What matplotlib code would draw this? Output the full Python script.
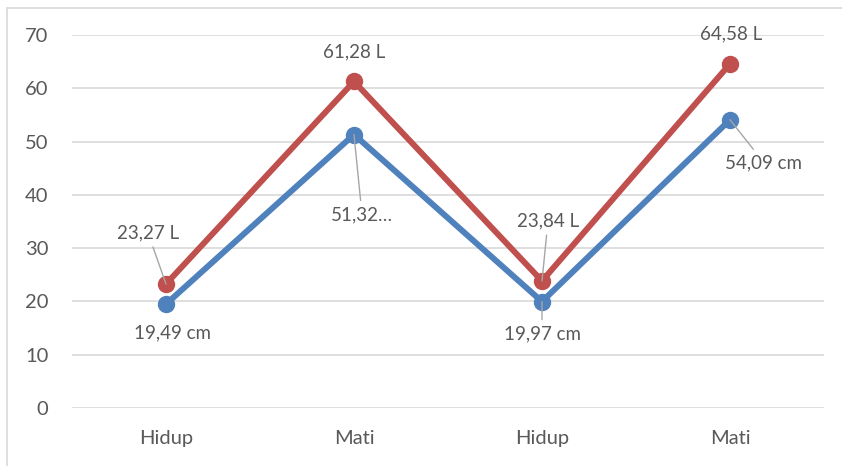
import matplotlib.pyplot as plt
from matplotlib.patches import Rectangle

plt.rcParams['font.family'] = ['Lato', 'DejaVu Sans']

# data
kategori = ['Hidup', 'Mati', 'Hidup', 'Mati']
panjang_cm = [19.49, 51.32, 19.97, 54.09]
volume_l = [23.27, 61.28, 23.84, 64.58]
label_cm = ['19,49 cm', '51,32…', '19,97 cm', '54,09 cm']
label_l = ['23,27 L', '61,28 L', '23,84 L', '64,58 L']

# label offsets (pixels) and whether a leader line is drawn
off_cm = [(7, -29, False), (8, -80, True), (0, -32, True), (34, -43, True)]
off_l = [(-18, 51, True), (0, 30, False), (6, 60, True), (1, 30, False)]

BIRU = '#4F81BD'
MERAH = '#C0504D'
TEKS = '#595959'
GRID = '#D9D9D9'

fig = plt.figure(figsize=(8.42, 4.66), dpi=100)
W, H = 842, 466

# chart frame
fig.patches.append(Rectangle((7 / W, -0.1), 1.2, 1 - 8 / H + 0.1,
                             transform=fig.transFigure, fill=False,
                             edgecolor=GRID, linewidth=1.2))

ax = fig.add_axes([72 / W, 1 - 408 / H, 752 / W, 373 / H])
x = list(range(len(kategori)))

ax.plot(x, panjang_cm, color=BIRU, linewidth=4.3, marker='o',
        markersize=11.5, solid_capstyle='round', zorder=3)
ax.plot(x, volume_l, color=MERAH, linewidth=4.3, marker='o',
        markersize=11.5, solid_capstyle='round', zorder=3)

ax.set_xlim(-0.5, 3.5)
ax.set_ylim(0, 70)
ax.set_yticks(range(0, 71, 10))
ax.set_xticks(x)
ax.set_xticklabels(kategori)
ax.grid(axis='y', color=GRID, linewidth=1.2)
ax.set_axisbelow(True)
for s in ax.spines.values():
    s.set_visible(False)
ax.tick_params(length=0, labelsize=14.5, colors=TEKS)
ax.tick_params(axis='y', pad=17)
ax.tick_params(axis='x', pad=16)


def tulis(xs, ys, labels, offs):
    for xi, yi, lab, (dx, dy, garis) in zip(xs, ys, labels, offs):
        kw = {}
        if garis:
            kw['arrowprops'] = dict(arrowstyle='-', color='#A6A6A6',
                                    linewidth=1, shrinkA=2, shrinkB=0)
        ax.annotate(lab, (xi, yi), xytext=(dx, dy),
                    textcoords='offset pixels', ha='center', va='center',
                    fontsize=13.5, color=TEKS, zorder=4, **kw)


tulis(x, panjang_cm, label_cm, off_cm)
tulis(x, volume_l, label_l, off_l)

fig.savefig('out.png', dpi=100)
